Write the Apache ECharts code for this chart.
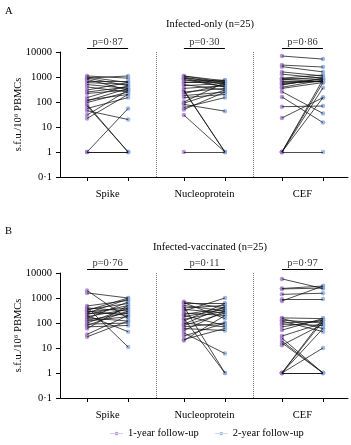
<!DOCTYPE html>
<html>
<head>
<meta charset="utf-8">
<script src="https://cdn.jsdelivr.net/npm/echarts@6/dist/echarts.min.js"></script>
<style>
  html, body { margin: 0; padding: 0; background: #fff; }
  #chart { width: 351px; height: 445px; }
</style>
</head>
<body>
<div id="chart"></div>
<script>
// antigens and the two time points
var antigens = ['Spike', 'Nucleoprotein', 'CEF'];
var seriesNames = ['1-year follow-up', '2-year follow-up'];
var yTicks = ['10000', '1000', '100', '10', '1', '0·1'];

// panel A: infected-only, [1-year, 2-year] pairs (s.f.u./10^6 PBMCs)
var aSpike1 = [1100, 1000, 900, 800, 700, 600, 500, 400, 300, 250, 220, 150, 120, 110, 95, 80, 70, 55, 45, 30, 22, 1, 1, 1, 900];
var aSpike2 = [900, 600, 1100, 300, 700, 500, 350, 250, 600, 400, 300, 450, 200, 350, 250, 1, 1, 150, 20, 300, 200, 55, 1, 1, 450];
var aNuc1 = [1100, 1000, 900, 800, 700, 600, 500, 450, 350, 300, 280, 250, 220, 180, 150, 100, 90, 80, 60, 50, 30, 1, 1100, 900, 600];
var aNuc2 = [700, 500, 650, 400, 750, 600, 300, 550, 450, 1, 1, 350, 500, 250, 200, 600, 300, 43, 150, 250, 1, 1, 600, 400, 700];
var aCef1 = [6900, 3000, 2600, 1600, 1300, 880, 760, 700, 610, 480, 390, 350, 260, 160, 65, 23, 1, 1, 1, 1, 900, 500, 1, 800, 550];
var aCef2 = [5200, 2500, 1600, 1100, 900, 800, 1000, 700, 650, 900, 750, 600, 35, 15, 69, 150, 800, 370, 150, 1, 1200, 850, 600, 650, 700];

// panel B: infected-vaccinated
var bSpike1 = [2000, 1600, 480, 420, 400, 350, 300, 280, 250, 240, 220, 200, 180, 160, 150, 130, 120, 100, 90, 80, 70, 60, 35, 28, 320];
var bSpike2 = [150, 1000, 800, 11, 300, 600, 200, 400, 900, 250, 500, 45, 350, 120, 700, 250, 180, 400, 100, 300, 80, 500, 200, 120, 1000];
var bNuc1 = [700, 650, 600, 500, 450, 400, 350, 300, 250, 220, 200, 180, 150, 140, 120, 100, 90, 80, 70, 60, 50, 40, 30, 22, 20];
var bNuc2 = [400, 150, 600, 300, 1, 500, 250, 1000, 200, 400, 80, 350, 1, 300, 600, 70, 450, 250, 100, 50, 300, 6, 100, 60, 200];
var bCef1 = [5800, 2400, 2300, 1400, 760, 900, 160, 150, 130, 120, 100, 90, 70, 52, 30, 19, 16, 13, 1, 1, 1, 1, 1, 25, 1];
var bCef2 = [2400, 3000, 2500, 1550, 3000, 910, 150, 60, 100, 45, 120, 80, 130, 150, 100, 1, 1, 90, 150, 120, 10, 1, 1, 1, 60];

var pA = ['p=0·87', 'p=0·30', 'p=0·86'];
var pB = ['p=0·76', 'p=0·11', 'p=0·97'];

var panels = [
    { first: [aSpike1, aNuc1, aCef1], second: [aSpike2, aNuc2, aCef2], p: pA },
    { first: [bSpike1, bNuc1, bCef1], second: [bSpike2, bNuc2, bCef2], p: pB }
];

var leftPos = [0.66, 3.02, 5.41]; // x of the 1-year column of each antigen
var dividers = [2.34, 4.71];
var bracketY = 14000;
var serif = 'Liberation Serif';
var fs = 10.5;
var purple = '#a47cca';
var blue = '#8aa9dd';

var chart = echarts.init(document.getElementById('chart'));

var grids = [
    { left: 60, top: 52, width: 288, height: 125, outerBoundsMode: 'none' },
    { left: 60, top: 273, width: 288, height: 125, outerBoundsMode: 'none' }
];
var xAxes = [], yAxes = [], series = [];

panels.forEach(function (pn, gi) {
    xAxes.push({
        type: 'value', gridIndex: gi, min: 0, max: 7.02,
        splitLine: { show: false },
        axisLine: { lineStyle: { color: '#000', width: 1 } },
        axisTick: {
            length: 4, lineStyle: { color: '#000' },
            customValues: [].concat.apply([], leftPos.map(function (p) { return [p, p + 1]; }))
        },
        axisLabel: {
            margin: 12, fontFamily: serif, fontSize: fs, color: '#000',
            customValues: leftPos.map(function (p) { return p + 0.5; }),
            formatter: function (v) {
                var k = 0;
                leftPos.forEach(function (p, i) { if (Math.abs(p + 0.5 - v) < 0.3) k = i; });
                return antigens[k];
            }
        }
    });
    yAxes.push({
        type: 'log', logBase: 10, gridIndex: gi, min: 0.1, max: 10000,
        name: 's.f.u./10⁶ PBMCs', nameLocation: 'middle', nameGap: 36, nameMoveOverlap: false,
        nameTextStyle: { fontFamily: serif, fontSize: fs, color: '#000' },
        splitLine: { show: false },
        minorTick: { show: false },
        axisLine: { show: true, lineStyle: { color: '#000', width: 1 } },
        axisTick: { show: true, length: 4, lineStyle: { color: '#000' } },
        axisLabel: {
            fontFamily: serif, fontSize: fs, color: '#000', margin: 8,
            formatter: function (v) { return v < 1 ? yTicks[5] : String(Math.round(v)); }
        }
    });

    var segs = [], pts1 = [], pts2 = [];
    pn.first.forEach(function (arr, k) {
        arr.forEach(function (v, i) {
            var w = pn.second[k][i];
            segs.push({ coords: [[leftPos[k], v], [leftPos[k] + 1, w]] });
            pts1.push([leftPos[k], v]);
            pts2.push([leftPos[k] + 1, w]);
        });
    });

    series.push({
        type: 'lines', coordinateSystem: 'cartesian2d',
        xAxisIndex: gi, yAxisIndex: gi,
        data: segs, silent: true,
        lineStyle: { color: '#111', width: 0.75, opacity: 1 },
        markLine: {
            silent: true, symbol: ['none', 'none'],
            data: dividers.map(function (d) { return { xAxis: d }; }),
            label: { show: false },
            lineStyle: { type: 'dotted', color: '#777', width: 1 }
        },
        z: 3
    });
    // significance brackets above each pair
    series.push({
        type: 'lines', coordinateSystem: 'cartesian2d', clip: false,
        xAxisIndex: gi, yAxisIndex: gi, silent: true,
        data: leftPos.map(function (p) { return { coords: [[p, bracketY], [p + 1, bracketY]] }; }),
        lineStyle: { color: '#000', width: 1, opacity: 1 }
    });
    series.push({
        type: 'scatter', clip: false, xAxisIndex: gi, yAxisIndex: gi, silent: true,
        symbolSize: 0,
        data: leftPos.map(function (p, k) { return { value: [p + 0.5, bracketY], label: { formatter: pn.p[k] } }; }),
        label: { show: true, position: 'top', distance: 1, fontFamily: serif, fontSize: fs, color: '#000' }
    });
    series.push({
        name: seriesNames[0], type: 'scatter', xAxisIndex: gi, yAxisIndex: gi,
        data: pts1, symbolSize: 4.5, itemStyle: { color: purple }, z: 2
    });
    series.push({
        name: seriesNames[1], type: 'scatter', xAxisIndex: gi, yAxisIndex: gi,
        data: pts2, symbolSize: 4.5, itemStyle: { color: blue }, z: 2
    });
});

var titleStyle = { fontFamily: serif, fontSize: fs, fontWeight: 'normal', color: '#000' };
var option = {
    animation: false,
    backgroundColor: '#fff',
    title: [
        { text: 'A', left: 0, top: 1, textStyle: titleStyle },
        { text: 'Infected-only (n=25)', left: 205, top: 14, textAlign: 'center', textStyle: titleStyle },
        { text: 'B', left: 0, top: 221, textStyle: titleStyle },
        { text: 'Infected-vaccinated (n=25)', left: 205, top: 237, textAlign: 'center', textStyle: titleStyle }
    ],
    legend: {
        bottom: 1, left: 105, itemGap: 16, itemWidth: 13, itemHeight: 6,
        data: seriesNames.map(function (n) {
            return { name: n, icon: 'path://M0,2.6 L14,2.6 L14,3.4 L0,3.4 Z M5,3 A2,2 0 1,0 9,3 A2,2 0 1,0 5,3 Z' };
        }),
        textStyle: { fontFamily: serif, fontSize: fs, color: '#000' }
    },
    grid: grids,
    xAxis: xAxes,
    yAxis: yAxes,
    series: series
};

chart.setOption(option);
</script>
</body>
</html>
